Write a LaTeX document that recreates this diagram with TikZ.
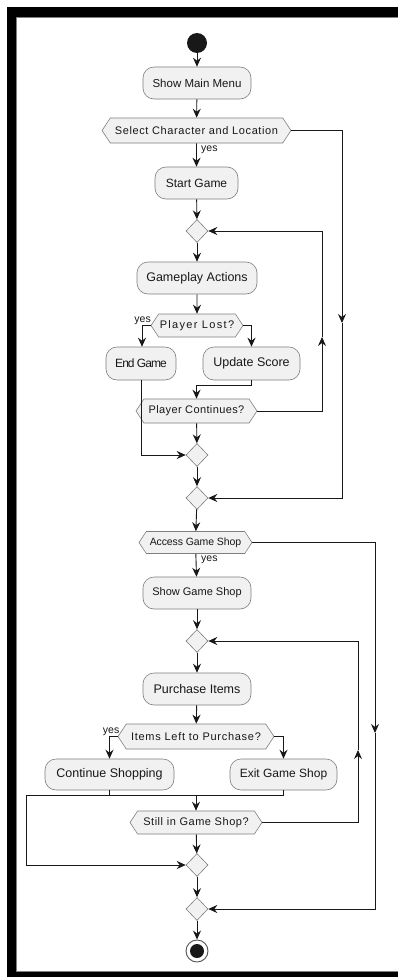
\documentclass[tikz,border=0pt]{standalone}
\usepackage{fontspec}
\setmainfont{Liberation Sans}
\usetikzlibrary{arrows.meta,shapes.geometric,shapes.symbols}
\definecolor{boxfill}{HTML}{F1F1F1}
\definecolor{boxline}{HTML}{7E7E7E}
\definecolor{ink}{HTML}{181818}
\tikzset{
  act/.style={draw=boxline, fill=boxfill, rounded corners=11pt, line width=0.6pt, minimum height=32pt, inner sep=0pt, text=ink, font=\fontsize{12.5}{14}\selectfont},
  hex/.style={signal, signal to=west and east, signal pointer angle=113, draw=boxline, fill=boxfill, line width=0.6pt, minimum height=24pt, inner sep=0pt, text=ink, font=\fontsize{11}{13}\selectfont},
  merge/.style={diamond, draw=boxline, fill=boxfill, line width=0.6pt, minimum width=22pt, minimum height=23pt, inner sep=0pt},
  flow/.style={draw=ink, line width=0.9pt},
  arr/.style={flow, -{Stealth[length=9pt,width=8pt,inset=3pt]}},
  lbl/.style={inner sep=0pt, text=ink, font=\fontsize{10.5}{12}\selectfont}
}
\begin{document}
\begin{tikzpicture}[x=1pt,y=-1pt]
\path[fill=white] (0,0) rectangle (398,977);
\useasboundingbox (0,0) rectangle (398,977);
% frame
\fill[black] (7,7) rectangle (398,17);
\fill[black] (7,7) rectangle (16,977);
\fill[black] (7,972) rectangle (398,977);
\draw[gray, line width=0.8pt] (16.4,971.6) -- (16.4,17.4) -- (398,17.4);
\draw[gray, line width=0.8pt] (16.4,971.6) -- (398,971.6);

% nodes
\node[circle, fill=ink, minimum size=20pt, inner sep=0pt] (start) at (197,43) {};
\node[act, minimum width=108pt, font=\fontsize{11.5}{13}\selectfont] (menu) at (197,83) {Show Main Menu};
\node[hex, minimum width=189pt, minimum height=25pt] (sel) at (196.5,130.5) {\addfontfeature{LetterSpace=5.5}Select Character and Location};
\node[act, minimum width=83pt, font=\fontsize{12}{14}\selectfont] (startg) at (196.5,183) {Start Game};
\node[merge] (d1) at (197,231) {};
\node[act, minimum width=120pt] (gp) at (197,278) {Gameplay Actions};
\node[hex, minimum width=92pt, minimum height=23pt] (lost) at (197,325.5) {\addfontfeature{LetterSpace=12}Player Lost?};
\node[act, minimum width=70pt, minimum height=33pt, font=\fontsize{12}{14}\selectfont] (endg) at (141,363.5) {\addfontfeature{LetterSpace=-8}End Game};
\node[act, minimum width=97pt, minimum height=33pt] (upd) at (251.5,363.5) {Update Score};
\node[hex, minimum width=121pt] (cont) at (196.5,411) {\addfontfeature{LetterSpace=3.5}Player Continues?};
\node[merge] (d2) at (197,455) {};
\node[merge] (d3) at (197,498) {};
\node[hex, minimum width=113pt, minimum height=22pt, font=\fontsize{10.5}{12}\selectfont] (acc) at (195.5,542.5) {\addfontfeature{LetterSpace=-1}Access Game Shop};
\node[act, minimum width=108pt, font=\fontsize{11}{13}\selectfont] (shop) at (197,593) {Show Game Shop};
\node[merge] (d4) at (197,641) {};
\node[act, minimum width=108pt] (pur) at (197,689) {Purchase Items};
\node[hex, minimum width=156pt, minimum height=25pt] (left) at (196,736.5) {\addfontfeature{LetterSpace=6.5}Items Left to Purchase?};
\node[act, minimum width=129pt, minimum height=31pt] (cs) at (109.5,774.5) {Continue Shopping};
\node[act, minimum width=107pt, minimum height=31pt, font=\fontsize{12}{14}\selectfont] (ex) at (283.5,774.5) {Exit Game Shop};
\node[hex, minimum width=132pt, minimum height=23pt] (still) at (196,822.5) {\addfontfeature{LetterSpace=5}Still in Game Shop?};
\node[merge] (d5) at (197,865) {};
\node[merge] (d6) at (197,909) {};
\node[circle, draw=ink!75, line width=0.9pt, fill=white, minimum size=22pt, inner sep=0pt] (stop) at (197,951) {};
\node[circle, fill=ink, minimum size=14pt, inner sep=0pt] (stopdot) at (stop.center) {};

% labels
\node[lbl, anchor=west] (yes1) at (201,150) {yes};
\node[lbl, anchor=east] (yes2) at (151,321) {yes};
\node[lbl, anchor=west] (yes3) at (201,560) {yes};
\node[lbl, anchor=east] (yes4) at (119.5,731.5) {yes};

% coordinates
\coordinate (r1a) at (342,130.5);
\coordinate (r1b) at (342,323);
\coordinate (r1c) at (342,498);
\coordinate (l1a) at (142,325.5);
\coordinate (l1b) at (251.5,325.5);
\coordinate (u1) at (251.5,385);
\coordinate (u2) at (196.5,385);
\coordinate (c1a) at (322,411);
\coordinate (c1b) at (322,337);
\coordinate (c1c) at (322,231);
\coordinate (e1) at (141,455);
\coordinate (r2a) at (375,542.5);
\coordinate (r2b) at (375,733);
\coordinate (r2c) at (375,909);
\coordinate (l2a) at (109.5,736.5);
\coordinate (l2b) at (283.5,736.5);
\coordinate (j1) at (109.5,795);
\coordinate (j2) at (283.5,795);
\coordinate (j3) at (26,795);
\coordinate (j4) at (196,795);
\coordinate (j5) at (26,865);
\coordinate (s1a) at (358,822.5);
\coordinate (s1b) at (358,750);
\coordinate (s1c) at (358,641);

% connectors
\draw[arr] (start) -- (menu);
\draw[arr] (menu) -- (sel);
\draw[arr] (sel) -- (startg);
\draw[arr] (sel.east) -- (r1a) -- (r1b);
\draw[arr] (r1b) -- (r1c) -- (d3.east);
\draw[arr] (startg) -- (d1);
\draw[arr] (d1) -- (gp);
\draw[arr] (gp) -- (lost);
\draw[arr] (lost.west) -- (l1a) -- (endg.north -| l1a);
\draw[arr] (lost.east) -- (l1b) -- (upd.north);
\draw[arr] (upd.south) -- (u1) -- (u2) -- (cont.north);
\draw[arr] (cont.east) -- (c1a) -- (c1b);
\draw[arr] (c1b) -- (c1c) -- (d1.east);
\draw[arr] (endg.south) -- (e1) -- (d2.west);
\draw[arr] (cont) -- (d2);
\draw[arr] (d2) -- (d3);
\draw[arr] (d3) -- (acc);
\draw[arr] (acc) -- (shop);
\draw[arr] (acc.east) -- (r2a) -- (r2b);
\draw[arr] (r2b) -- (r2c) -- (d6.east);
\draw[arr] (shop) -- (d4);
\draw[arr] (d4) -- (pur);
\draw[arr] (pur) -- (left);
\draw[arr] (left.west) -- (l2a) -- (cs.north);
\draw[arr] (left.east) -- (l2b) -- (ex.north);
\draw[flow] (cs.south) -- (j1);
\draw[flow] (ex.south) -- (j2);
\draw[flow] (j3) -- (j2);
\draw[arr] (j4) -- (still.north);
\draw[arr] (j3) -- (j5) -- (d5.west);
\draw[arr] (still.east) -- (s1a) -- (s1b);
\draw[arr] (s1b) -- (s1c) -- (d4.east);
\draw[arr] (still) -- (d5);
\draw[arr] (d5) -- (d6);
\draw[arr] (d6) -- (stop);
\end{tikzpicture}
\end{document}
